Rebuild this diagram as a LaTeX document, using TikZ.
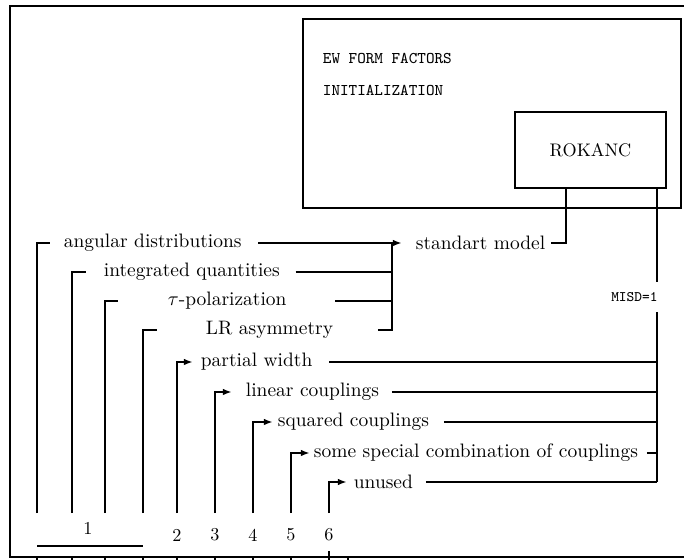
\documentclass[tikz,border=0pt]{standalone}
\usepackage{tikz}
\usetikzlibrary{arrows.meta,calc,positioning}
\newcommand{\px}{0.55pt}

\begin{document}
\begin{tikzpicture}[x=0.55pt,y=-0.55pt,line width=1pt,
  >={Latex[length=5pt,width=3.6pt]},
  lbl/.style={inner sep=0pt,anchor=west,font=\fontsize{10.7}{13}\selectfont},
  tt/.style={font=\small\ttfamily,inner sep=0pt}]
\useasboundingbox (0,0) rectangle (684,560);
% frame and scale at the bottom
\draw (684,6) -- (10,6) -- (10,557) -- (684,557);
\foreach \x in {37,72,105,143,177,215,253,291,329,348}
  \draw[line width=0.7pt] (\x,557) -- (\x,561);
\draw[line width=0.7pt] (329,551) -- (329,557);

% initialization block
\node[draw,minimum width=378*\px,minimum height=189*\px] (ewbox) at (492,113.5) {};
\node[tt,anchor=west] (ew) at (322,58) {EW FORM FACTORS};
\node[tt,anchor=west] (init) at (322,90) {INITIALIZATION};
\node[draw,minimum width=151*\px,minimum height=76*\px] (rok) at (590.5,150) {ROKANC};
\path (rok.south west) ++(52,0) coordinate (rokL);
\path (rok.south west) ++(143,0) coordinate (rokR);
\node[anchor=east,font=\footnotesize\ttfamily,inner sep=0pt,minimum height=29*\px] (misd) at (658.5,297) {MISD=1};

% quantities
\node[lbl] (n1) at (63,243) {angular distributions};
\node[lbl] (n2) at (103,272) {integrated quantities};
\node[lbl] (n3) at (167,301) {$\tau$-polarization};
\node[lbl] (n4) at (205,330) {LR asymmetry};
\node[lbl] (n5) at (200,362) {partial width};
\node[lbl] (n6) at (245,392) {linear couplings};
\node[lbl] (n7) at (277,422) {squared couplings};
\node[lbl] (n8) at (313,453) {some special combination of couplings};
\node[lbl] (n9) at (353,482) {unused};
\node[lbl] (sm) at (415,243) {standart model};

\foreach \x [count=\i] in {37,72,105,143,177,215,253,291,329}
  \coordinate (b\i) at (\x,513);
\foreach \i/\g in {1/13,2/17,3/49,4/48}
  \draw[shorten >=\g*\px] (b\i) |- (n\i.west);
\foreach \i/\g in {5/7,6/13,7/4,8/3,9/6}
  \draw[->,shorten >=\g*\px] (b\i) |- (n\i.west);

% standard model branch
\coordinate (busL) at (392,330);
\draw[->,shorten <=16*\px,shorten >=13*\px] (n1.east) -- (sm.west);
\draw[shorten <=15*\px] (n2.east) -- (n2.east -| busL);
\draw[shorten <=48*\px] (n3.east) -- (n3.east -| busL);
\draw[shorten <=44*\px] (n4.east) -| (busL |- n1.east);
\draw[shorten <=5*\px] (sm.east) -| (rokL);

% MISD=1 branch
\draw (rokR) -- (rokR |- misd.north);
\draw (rokR |- misd.south) -- (rokR |- n9.east);
\foreach \i/\g in {5/16,6/12,7/14,8/8}
  \draw[shorten <=\g*\px] (n\i.east) -- (n\i.east -| rokR);
\draw[line width=0.6pt,shorten <=12*\px] (n9.east) -- (n9.east -| rokR);

% switch values
\node (c1) at (88,528) {1};
\draw ($(b1)+(0,33)$) -- ($(b4)+(0,33)$);
\foreach \i [count=\n from 2] in {5,...,9}
  \node (c\n) at ($(b\i)+(0,22)$) {\n};
\end{tikzpicture}
\end{document}
